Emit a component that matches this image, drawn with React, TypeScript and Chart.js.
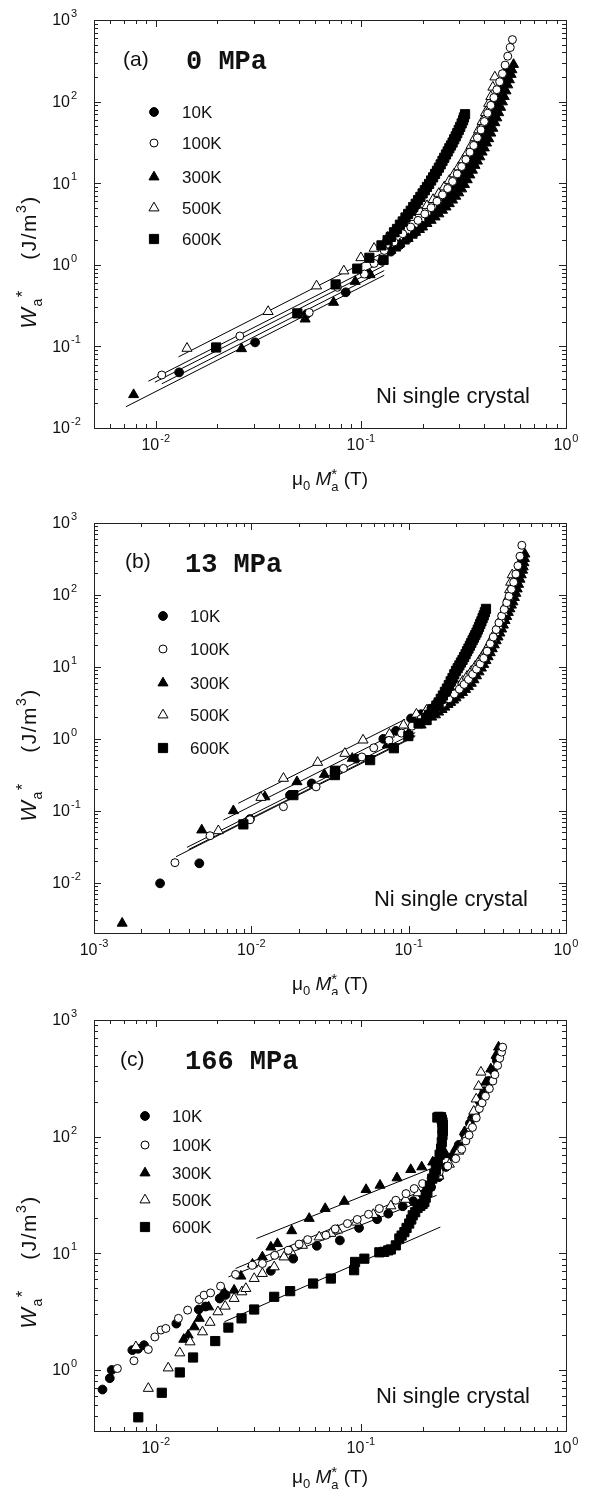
import React, { useEffect, useRef } from 'react';
import { Chart, registerables } from 'chart.js';

Chart.register(...registerables);

type P = [number, number];

const SANS = '"Liberation Sans", Arial, Helvetica, sans-serif';
const MONO = '"Liberation Mono", "Courier New", monospace';

const TEMPS = ['10K', '100K', '300K', '500K', '600K'];
const SAMPLE = 'Ni single crystal';

// ---------- Panel (a): 0 MPa ----------
const A_10K: P[] = [
  [0.013, 0.048], [0.0305, 0.112], [0.0545, 0.25], [0.0844, 0.46], [0.109, 0.77], [0.127, 1.12],
  [0.14, 1.45], [0.155, 1.75], [0.17, 2.1], [0.185, 2.5], [0.2, 3.0], [0.215, 3.6], [0.23, 4.3],
  [0.245, 5.1], [0.26, 6.1], [0.275, 7.3], [0.29, 8.8], [0.305, 10.6], [0.32, 12.8], [0.335, 15.5],
  [0.35, 19], [0.365, 23.5], [0.38, 29], [0.395, 36], [0.41, 45], [0.425, 56], [0.44, 70],
  [0.455, 88], [0.47, 110], [0.485, 140], [0.5, 180], [0.515, 230],
];
const A_100K: P[] = [
  [0.0107, 0.0446], [0.0257, 0.134], [0.056, 0.26], [0.0769, 0.53], [0.104, 0.77], [0.116, 1.04],
  [0.13, 1.5], [0.145, 1.9], [0.16, 2.4], [0.175, 2.9], [0.19, 3.5], [0.205, 4.2], [0.22, 5.0],
  [0.235, 6.0], [0.25, 7.2], [0.265, 8.6], [0.28, 10.5], [0.295, 13], [0.31, 16], [0.325, 19.5],
  [0.34, 24], [0.355, 29], [0.37, 36], [0.385, 45], [0.4, 57], [0.415, 72], [0.43, 90],
  [0.445, 112], [0.46, 140], [0.475, 175], [0.49, 220], [0.505, 280], [0.52, 360], [0.535, 460], [0.548, 575],
];
const A_300K: P[] = [
  [0.0078, 0.0256], [0.0262, 0.0936], [0.0535, 0.216], [0.0736, 0.346], [0.0938, 0.625], [0.111, 0.755],
  [0.14, 1.5], [0.148, 1.6], [0.155, 1.8], [0.163, 1.95], [0.17, 2.1], [0.178, 2.3], [0.185, 2.5],
  [0.193, 2.7], [0.2, 2.9], [0.21, 3.2], [0.22, 3.5], [0.23, 3.85], [0.24, 4.2], [0.25, 4.65],
  [0.26, 5.1], [0.27, 5.6], [0.28, 6.2], [0.29, 6.9], [0.3, 7.6], [0.31, 8.5], [0.32, 9.6],
  [0.33, 11], [0.34, 12.6], [0.35, 14.4], [0.36, 16.5], [0.37, 18.6], [0.38, 21], [0.39, 24],
  [0.4, 27], [0.41, 31], [0.42, 35], [0.43, 41], [0.44, 47], [0.45, 55], [0.46, 63], [0.47, 73],
  [0.48, 85], [0.49, 99], [0.5, 115], [0.51, 135], [0.52, 160], [0.53, 185], [0.54, 215],
  [0.545, 245], [0.555, 285],
];
const A_500K: P[] = [
  [0.0142, 0.0946], [0.0353, 0.267], [0.0608, 0.55], [0.0826, 0.84], [0.1, 1.22], [0.116, 1.59], [0.135, 2.17],
  [0.15, 2.7], [0.165, 3.2], [0.18, 3.8], [0.195, 4.5], [0.21, 5.3], [0.225, 6.3], [0.24, 7.5],
  [0.255, 9.0], [0.27, 10.8], [0.285, 13], [0.3, 15.8], [0.315, 19.3], [0.33, 23.5], [0.345, 29],
  [0.36, 36], [0.375, 45], [0.39, 57], [0.405, 73], [0.42, 95], [0.43, 115], [0.44, 150], [0.45, 200],
];
const A_600K: P[] = [
  [0.0197, 0.097], [0.049, 0.254], [0.0753, 0.575], [0.096, 0.897], [0.11, 1.22], [0.126, 1.73], [0.129, 1.15],
  [0.135, 2.0], [0.14, 2.2], [0.145, 2.5], [0.15, 2.75], [0.155, 3.1], [0.16, 3.4], [0.165, 3.8],
  [0.17, 4.2], [0.175, 4.6], [0.18, 5.1], [0.185, 5.6], [0.19, 6.2], [0.195, 6.8], [0.2, 7.5],
  [0.205, 8.2], [0.21, 9.0], [0.215, 9.8], [0.22, 10.8], [0.225, 11.8], [0.23, 13], [0.235, 14.2],
  [0.24, 15.5], [0.245, 17], [0.25, 18.8], [0.255, 20.5], [0.26, 22.5], [0.265, 24.5], [0.27, 26.8],
  [0.275, 29], [0.28, 31.5], [0.285, 34.5], [0.29, 37.5], [0.295, 41], [0.3, 45], [0.305, 49],
  [0.31, 54], [0.315, 59], [0.318, 64], [0.322, 70],
];
const A_FITS: P[][] = [
  [[0.0129, 0.0744], [0.125, 1.36]],
  [[0.0092, 0.0374], [0.13, 1.11]],
  [[0.0099, 0.0364], [0.13, 0.98]],
  [[0.0107, 0.0348], [0.13, 0.85]],
  [[0.00715, 0.0182], [0.13, 0.745]],
];

// ---------- Panel (b): 13 MPa ----------
const B_10K: P[] = [
  [0.00263, 0.0098], [0.00467, 0.0186], [0.0098, 0.0767], [0.0176, 0.165], [0.0242, 0.24], [0.0465, 0.53],
  [0.069, 1.0], [0.083, 1.29], [0.1035, 1.92], [0.12, 2.2], [0.135, 2.6], [0.15, 3.0], [0.165, 3.5],
  [0.18, 4.0], [0.195, 4.6], [0.21, 5.3], [0.225, 6.1], [0.24, 7.1], [0.255, 8.3], [0.27, 9.8],
  [0.285, 11.6], [0.3, 13.8], [0.315, 16.5], [0.33, 19.8], [0.345, 23.8], [0.36, 28.5], [0.375, 34.5],
  [0.39, 42], [0.405, 51], [0.42, 62], [0.435, 76], [0.45, 93], [0.465, 115], [0.48, 140],
  [0.495, 175], [0.51, 220], [0.525, 290],
];
const B_100K: P[] = [
  [0.00327, 0.019], [0.00546, 0.045], [0.0098, 0.075], [0.016, 0.114], [0.0258, 0.215], [0.0385, 0.388],
  [0.0504, 0.56], [0.06, 0.75], [0.075, 0.95], [0.09, 1.2], [0.105, 1.5], [0.12, 1.9], [0.135, 2.25],
  [0.15, 2.65], [0.165, 3.1], [0.18, 3.6], [0.195, 4.2], [0.21, 4.9], [0.225, 5.7], [0.24, 6.7],
  [0.255, 7.9], [0.27, 9.3], [0.285, 11], [0.3, 13.2], [0.315, 16.5], [0.33, 21], [0.345, 26],
  [0.36, 33], [0.375, 41], [0.39, 51], [0.405, 63], [0.42, 78], [0.435, 96], [0.45, 120],
  [0.465, 150], [0.48, 195], [0.495, 255], [0.51, 345], [0.524, 490],
];
const B_300K: P[] = [
  [0.00151, 0.00273], [0.00484, 0.054], [0.00769, 0.1], [0.0122, 0.156], [0.0195, 0.253], [0.0291, 0.32],
  [0.0438, 0.535], [0.073, 0.82], [0.1, 1.2], [0.12, 1.55], [0.13, 1.75], [0.14, 2.0], [0.148, 2.15],
  [0.155, 2.35], [0.163, 2.55], [0.17, 2.75], [0.178, 3.0], [0.185, 3.2], [0.193, 3.45], [0.2, 3.7],
  [0.21, 4.05], [0.22, 4.4], [0.23, 4.85], [0.24, 5.3], [0.25, 5.9], [0.26, 6.6], [0.27, 7.5],
  [0.28, 8.5], [0.29, 9.6], [0.3, 10.8], [0.31, 12.2], [0.32, 13.8], [0.33, 15.7], [0.34, 17.8],
  [0.35, 20.2], [0.36, 23], [0.37, 26], [0.38, 29.5], [0.39, 33.5], [0.4, 38], [0.41, 44], [0.42, 50],
  [0.43, 57], [0.44, 64], [0.45, 72], [0.46, 80], [0.47, 92], [0.48, 105], [0.49, 121], [0.5, 140],
  [0.51, 165], [0.52, 190], [0.53, 220], [0.535, 245], [0.54, 280], [0.545, 320], [0.548, 370],
];
const B_500K: P[] = [
  [0.00617, 0.0527], [0.0115, 0.153], [0.016, 0.282], [0.0264, 0.47], [0.0393, 0.627], [0.0513, 0.96],
  [0.0755, 1.16], [0.0927, 1.55], [0.112, 2.2], [0.13, 2.5], [0.145, 2.9], [0.16, 3.4], [0.175, 4.0],
  [0.19, 4.6], [0.205, 5.4], [0.22, 6.3], [0.235, 7.4], [0.25, 8.7], [0.265, 10.2], [0.28, 12],
  [0.295, 14.2], [0.31, 17], [0.325, 20.5], [0.34, 25], [0.355, 30], [0.37, 37], [0.385, 46],
  [0.4, 57], [0.415, 72], [0.43, 92], [0.438, 118], [0.445, 150], [0.455, 190],
];
const B_600K: P[] = [
  [0.0089, 0.0647], [0.0185, 0.165], [0.034, 0.313], [0.034, 0.36], [0.0569, 0.506], [0.0805, 0.74],
  [0.0995, 1.09], [0.1156, 1.64], [0.129, 1.82], [0.13, 1.95], [0.135, 2.15], [0.14, 2.4], [0.145, 2.6],
  [0.15, 2.9], [0.155, 3.2], [0.16, 3.6], [0.165, 4.0], [0.17, 4.5], [0.175, 5.0], [0.18, 5.6],
  [0.185, 6.3], [0.19, 7.0], [0.195, 7.9], [0.2, 8.8], [0.205, 9.6], [0.21, 10.5], [0.215, 11.5],
  [0.22, 12.5], [0.225, 13.7], [0.23, 15], [0.235, 16.5], [0.24, 18], [0.245, 19.7], [0.25, 21.5],
  [0.255, 23.5], [0.26, 25.5], [0.265, 27.7], [0.27, 30], [0.275, 33], [0.28, 36], [0.285, 39.5],
  [0.29, 43], [0.295, 47.5], [0.3, 52], [0.305, 57.5], [0.31, 64],
];
const B_FITS: P[][] = [
  [[0.00826, 0.127], [0.095, 1.87]],
  [[0.00664, 0.0743], [0.1, 1.47]],
  [[0.0039, 0.031], [0.11, 1.22]],
  [[0.004, 0.029], [0.11, 1.11]],
  [[0.00332, 0.023], [0.11, 1.08]],
];

// ---------- Panel (c): 166 MPa ----------
const C_10K: P[] = [
  [0.0055, 0.68], [0.00597, 0.85], [0.0061, 1.0], [0.00769, 1.48], [0.0082, 1.52], [0.00877, 1.63],
  [0.0126, 2.5], [0.0162, 3.3], [0.0175, 3.5], [0.0205, 4.1], [0.0219, 4.4], [0.0364, 7.08],
  [0.0468, 9.0], [0.061, 11.6], [0.079, 12.9], [0.098, 16.5], [0.12, 19.6], [0.136, 21.9], [0.16, 25.3],
  [0.18, 28], [0.2, 32], [0.22, 37], [0.24, 45], [0.26, 55], [0.28, 68], [0.3, 85], [0.32, 105],
  [0.34, 130], [0.36, 160], [0.38, 200], [0.4, 245], [0.42, 300], [0.44, 370], [0.46, 450],
];
const C_100K: P[] = [
  [0.0065, 1.03], [0.00783, 1.2], [0.0092, 1.5], [0.0099, 1.92], [0.0106, 2.2], [0.0112, 2.27],
  [0.0129, 2.77], [0.0143, 3.26], [0.0163, 4.02], [0.0172, 4.38], [0.0185, 4.58], [0.0207, 5.23],
  [0.0245, 6.6], [0.0296, 7.9], [0.0331, 8.18], [0.038, 9.6], [0.0443, 10.6], [0.05, 12], [0.055, 13.1],
  [0.0675, 14.3], [0.075, 16.2], [0.086, 18.0], [0.096, 19.5], [0.109, 21.6], [0.123, 24.2],
  [0.148, 28.5], [0.166, 32.5], [0.182, 35.9], [0.2, 39.6], [0.22, 44], [0.241, 49.8], [0.265, 56],
  [0.29, 64.8], [0.31, 78], [0.325, 92], [0.337, 103], [0.35, 120], [0.365, 145], [0.378, 174],
  [0.39, 195], [0.405, 222], [0.423, 258], [0.44, 300], [0.45, 340], [0.464, 408], [0.475, 470],
  [0.485, 530], [0.491, 585],
];
const C_300K: P[] = [
  [0.0137, 1.83], [0.0144, 1.99], [0.0154, 2.34], [0.0163, 2.77], [0.0181, 3.47], [0.0215, 4.67],
  [0.0241, 4.83], [0.026, 6.37], [0.0296, 8.07], [0.0331, 9.3], [0.0364, 11.3], [0.0392, 12.1],
  [0.046, 15.6], [0.056, 19.9], [0.067, 24.2], [0.083, 27.9], [0.106, 35.2], [0.124, 38.3],
  [0.15, 44.3], [0.175, 52.2], [0.198, 55], [0.224, 60.6], [0.26, 70], [0.29, 79], [0.32, 110],
  [0.35, 152], [0.38, 215], [0.407, 293], [0.43, 380], [0.456, 497], [0.469, 585],
];
const C_500K: P[] = [
  [0.008, 1.58], [0.0092, 0.695], [0.0115, 1.04], [0.0131, 1.4], [0.0147, 1.74], [0.0169, 2.12],
  [0.0184, 2.56], [0.0201, 3.15], [0.0218, 3.52], [0.0241, 4.1], [0.0263, 4.67], [0.0275, 4.99],
  [0.0302, 6.08], [0.0331, 6.71], [0.0378, 7.65], [0.0422, 9.3], [0.0456, 10.3], [0.0519, 11.7],
  [0.0626, 13.8], [0.0714, 14.8], [0.077, 15.8], [0.095, 18.5], [0.115, 21.5], [0.14, 25.5],
  [0.165, 29], [0.19, 33], [0.21, 36], [0.24, 46], [0.27, 58], [0.3, 75], [0.32, 95], [0.34, 125],
  [0.355, 165], [0.365, 210], [0.375, 270], [0.385, 357],
];
const C_600K: P[] = [
  [0.00822, 0.393], [0.0107, 0.638], [0.0131, 0.953], [0.0152, 1.28], [0.0195, 1.77], [0.0226, 2.31],
  [0.0262, 2.77], [0.0302, 3.3], [0.0378, 4.24], [0.0452, 4.74], [0.0585, 5.51], [0.0714, 6.08],
  [0.0927, 7.17], [0.0937, 8.44], [0.104, 9.0], [0.123, 10.2], [0.13, 10.3], [0.136, 10.6],
  [0.14, 10.8], [0.148, 11.7], [0.154, 13.4], [0.158, 14.2], [0.163, 15.2], [0.167, 16.5],
  [0.172, 18.0], [0.176, 19.5], [0.179, 21.2], [0.184, 22.5], [0.189, 24.5], [0.195, 25.5],
  [0.2, 26.5], [0.204, 27.5], [0.207, 30], [0.211, 33.6], [0.217, 38], [0.223, 43.7], [0.228, 48],
  [0.232, 52], [0.237, 60.6], [0.242, 70], [0.246, 79], [0.248, 90], [0.25, 103], [0.251, 112],
  [0.25, 118], [0.251, 126], [0.25, 133], [0.248, 140], [0.246, 147], [0.24, 148], [0.236, 146],
];
const C_FITS: P[][] = [
  [[0.031, 13.4], [0.22, 53.2]],
  [[0.0245, 7.41], [0.22, 37]],
  [[0.0226, 6.28], [0.234, 31.4]],
  [[0.0216, 2.59], [0.244, 16.8]],
];

// ---------- styles / layout ----------
const MARKERS = [
  { style: 'circle', r: 4.4, fill: '#000', order: 4 },
  { style: 'circle', r: 4.0, fill: '#fff', order: 2 },
  { style: 'triangle', r: 5.8, fill: '#000', order: 5 },
  { style: 'triangle', r: 5.8, fill: '#fff', order: 3 },
  { style: 'rect', r: 6.5, fill: '#000', order: 1 },
];

const PANELS = [
  {
    tag: '(a)', pressure: '0 MPa', top: 0, height: 495,
    area: { l: 94, r: 566, t: 20, b: 428 },
    xMin: 0.005, xMax: 1, yMin: 0.01, yMax: 1000,
    xDec: [-2, -1, 0], yDec: [-2, -1, 0, 1, 2, 3],
    series: [A_10K, A_100K, A_300K, A_500K, A_600K], fits: A_FITS,
    tagX: 123, tagY: 60, presX: 186, presY: 62,
    legX: 154, legTextX: 182, legY: [112, 143, 177, 208, 239],
    niX: 530, niY: 397, xTitleY: 480, yTitleY: 262,
  },
  {
    tag: '(b)', pressure: '13 MPa', top: 495, height: 500,
    area: { l: 94, r: 566, t: 523, b: 933 },
    xMin: 0.001, xMax: 1, yMin: 0.002, yMax: 1000,
    xDec: [-3, -2, -1, 0], yDec: [-2, -1, 0, 1, 2, 3],
    series: [B_10K, B_100K, B_300K, B_500K, B_600K], fits: B_FITS,
    tagX: 125, tagY: 562, presX: 185, presY: 565,
    legX: 163, legTextX: 190, legY: [616, 649, 683, 715, 748],
    niX: 528, niY: 900, xTitleY: 985, yTitleY: 755,
  },
  {
    tag: '(c)', pressure: '166 MPa', top: 995, height: 504,
    area: { l: 94, r: 566, t: 1020, b: 1431 },
    xMin: 0.005, xMax: 1, yMin: 0.3, yMax: 1000,
    xDec: [-2, -1, 0], yDec: [0, 1, 2, 3],
    series: [C_10K, C_100K, C_300K, C_500K, C_600K], fits: C_FITS,
    tagX: 120, tagY: 1060, presX: 185, presY: 1062,
    legX: 145, legTextX: 172, legY: [1116, 1145, 1173, 1200, 1227],
    niX: 530, niY: 1397, xTitleY: 1478, yTitleY: 1262,
  },
];

type Piece = { t: string; f: string; dy?: number; keep?: boolean };

function richWidth(ctx: CanvasRenderingContext2D, pieces: Piece[]) {
  let x = 0, hold = 0;
  for (const p of pieces) {
    ctx.font = p.f;
    const w = ctx.measureText(p.t).width;
    if (p.keep) hold = Math.max(hold, w);
    else { x += Math.max(w, hold); hold = 0; }
  }
  return x;
}
function drawRich(ctx: CanvasRenderingContext2D, pieces: Piece[], x0: number, y: number) {
  let x = x0, hold = 0;
  ctx.textAlign = 'left';
  ctx.textBaseline = 'middle';
  for (const p of pieces) {
    ctx.font = p.f;
    const w = ctx.measureText(p.t).width;
    ctx.fillText(p.t, x, y + (p.dy || 0));
    if (p.keep) hold = Math.max(hold, w);
    else { x += Math.max(w, hold); hold = 0; }
  }
}

function drawPow(ctx: CanvasRenderingContext2D, exp: number, x: number, y: number, mode: 'x' | 'y') {
  const base = '10';
  const sup = String(exp);
  ctx.font = `16px ${SANS}`;
  const wb = ctx.measureText(base).width;
  ctx.font = `11px ${SANS}`;
  const ws = ctx.measureText(sup).width;
  const x0 = mode === 'x' ? x - (wb + 1 + ws) / 2 : x - wb;
  ctx.textAlign = 'left';
  ctx.textBaseline = 'middle';
  ctx.font = `16px ${SANS}`;
  ctx.fillText(base, x0, y);
  ctx.font = `11px ${SANS}`;
  ctx.fillText(sup, x0 + wb + 1, y - 7);
}

function drawMarker(ctx: CanvasRenderingContext2D, m: any, x: number, y: number) {
  ctx.save();
  ctx.lineWidth = 1;
  ctx.strokeStyle = '#000';
  ctx.fillStyle = m.fill;
  ctx.beginPath();
  const r = m.r;
  if (m.style === 'circle') ctx.arc(x, y, r, 0, Math.PI * 2);
  else if (m.style === 'triangle') {
    ctx.moveTo(x, y - r);
    ctx.lineTo(x + 0.866 * r, y + 0.5 * r);
    ctx.lineTo(x - 0.866 * r, y + 0.5 * r);
    ctx.closePath();
  } else {
    const s = r * Math.SQRT1_2;
    ctx.rect(x - s, y - s, 2 * s, 2 * s);
  }
  ctx.fill();
  ctx.stroke();
  ctx.restore();
}

function makeOverlay(p: any) {
  return {
    id: 'overlay',
    afterDraw(chart: any) {
      const ctx: CanvasRenderingContext2D = chart.ctx;
      const xs = chart.scales.x;
      const ys = chart.scales.y;
      const ca = chart.chartArea;
      const off = p.top;
      ctx.save();
      ctx.strokeStyle = '#222';
      ctx.fillStyle = '#111';
      ctx.lineWidth = 1;
      ctx.strokeRect(Math.round(ca.left) + 0.5, Math.round(ca.top) + 0.5,
        Math.round(ca.right - ca.left), Math.round(ca.bottom - ca.top));
      ctx.beginPath();
      const kx0 = Math.floor(Math.log10(p.xMin)), kx1 = Math.ceil(Math.log10(p.xMax));
      for (let k = kx0; k <= kx1; k++) {
        for (let m = 1; m <= 9; m++) {
          const v = m * Math.pow(10, k);
          if (v < p.xMin * 0.999 || v > p.xMax * 1.001) continue;
          const px = Math.round(xs.getPixelForValue(v)) + 0.5;
          const len = m === 1 ? 7 : 4;
          ctx.moveTo(px, ca.bottom); ctx.lineTo(px, ca.bottom - len);
          ctx.moveTo(px, ca.top); ctx.lineTo(px, ca.top + len);
        }
      }
      const ky0 = Math.floor(Math.log10(p.yMin)), ky1 = Math.ceil(Math.log10(p.yMax));
      for (let k = ky0; k <= ky1; k++) {
        for (let m = 1; m <= 9; m++) {
          const v = m * Math.pow(10, k);
          if (v < p.yMin * 0.999 || v > p.yMax * 1.001) continue;
          const py = Math.round(ys.getPixelForValue(v)) + 0.5;
          const len = m === 1 ? 7 : 4;
          ctx.moveTo(ca.left, py); ctx.lineTo(ca.left + len, py);
          ctx.moveTo(ca.right, py); ctx.lineTo(ca.right - len, py);
        }
      }
      ctx.stroke();
      ctx.fillStyle = '#111';
      for (const e of p.xDec) drawPow(ctx, e, xs.getPixelForValue(Math.pow(10, e)), ca.bottom + 18, 'x');
      for (const e of p.yDec) drawPow(ctx, e, 70, ys.getPixelForValue(Math.pow(10, e)) + 1, 'y');
      const xt: Piece[] = [
        { t: 'μ', f: `19px ${SANS}` },
        { t: '0', f: `13px ${SANS}`, dy: 6 },
        { t: ' ', f: `19px ${SANS}` },
        { t: 'M', f: `italic 19px ${SANS}` },
        { t: 'a', f: `13px ${SANS}`, dy: 7, keep: true },
        { t: '*', f: `15px ${SANS}`, dy: -5 },
        { t: ' (T)', f: `19px ${SANS}` },
      ];
      const cx = (ca.left + ca.right) / 2;
      drawRich(ctx, xt, cx - richWidth(ctx, xt) / 2, p.xTitleY - off);
      const yt: Piece[] = [
        { t: 'W', f: `italic 22px ${SANS}` },
        { t: 'a', f: `14px ${SANS}`, dy: 8 },
        { t: '*', f: `17px ${SANS}`, dy: -7 },
        { t: '    (J/m', f: `21px ${SANS}` },
        { t: '3', f: `14px ${SANS}`, dy: -8 },
        { t: ')', f: `21px ${SANS}` },
      ];
      ctx.save();
      ctx.translate(30, p.yTitleY - off);
      ctx.rotate(-Math.PI / 2);
      (ctx as any).letterSpacing = '1.5px';
      drawRich(ctx, yt, -richWidth(ctx, yt) / 2, 0);
      (ctx as any).letterSpacing = '0px';
      ctx.restore();
      ctx.textAlign = 'left';
      ctx.textBaseline = 'middle';
      ctx.font = `21px ${SANS}`;
      ctx.fillText(p.tag, p.tagX, p.tagY - off);
      ctx.font = `bold 27px ${MONO}`;
      ctx.fillText(p.pressure, p.presX, p.presY - off);
      TEMPS.forEach((t, i) => {
        drawMarker(ctx, MARKERS[i], p.legX, p.legY[i] - off);
        ctx.fillStyle = '#111';
        ctx.textAlign = 'left';
        ctx.textBaseline = 'middle';
        ctx.font = `17px ${SANS}`;
        ctx.fillText(t, p.legTextX, p.legY[i] - off + 1);
      });
      ctx.textAlign = 'right';
      ctx.font = `22px ${SANS}`;
      ctx.fillText(SAMPLE, p.niX, p.niY - off);
      ctx.restore();
    },
  };
}

function PanelChart({ p }: { p: any }) {
  const ref = useRef<HTMLCanvasElement | null>(null);
  useEffect(() => {
    if (!ref.current) return;
    const fitSets = p.fits.map((seg: P[]) => ({
      data: seg.map(([x, y]) => ({ x, y })),
      showLine: true,
      borderColor: '#000',
      borderWidth: 1,
      pointRadius: 0,
      order: 10,
    }));
    const pointSets = p.series.map((s: P[], i: number) => ({
      label: TEMPS[i],
      data: s.map(([x, y]) => ({ x, y })),
      showLine: false,
      pointStyle: MARKERS[i].style,
      pointRadius: MARKERS[i].r,
      pointBackgroundColor: MARKERS[i].fill,
      pointBorderColor: '#000',
      pointBorderWidth: 1,
      order: MARKERS[i].order,
    }));
    const chart = new Chart(ref.current, {
      type: 'scatter',
      data: { datasets: [...fitSets, ...pointSets] },
      options: {
        responsive: false,
        animation: false,
        devicePixelRatio: 1,
        events: [],
        layout: {
          autoPadding: false,
          padding: {
            left: p.area.l,
            right: 595 - p.area.r,
            top: p.area.t - p.top,
            bottom: p.top + p.height - p.area.b,
          },
        },
        scales: {
          x: { type: 'logarithmic', min: p.xMin, max: p.xMax, display: false, bounds: 'data' },
          y: { type: 'logarithmic', min: p.yMin, max: p.yMax, display: false, bounds: 'data' },
        },
        plugins: { legend: { display: false }, tooltip: { enabled: false } },
      } as any,
      plugins: [makeOverlay(p)],
    });
    return () => chart.destroy();
  }, [p]);
  return (
    <canvas
      ref={ref}
      width={595}
      height={p.height}
      style={{ position: 'absolute', left: 0, top: p.top, width: 595, height: p.height }}
    />
  );
}

export default function App() {
  return (
    <div style={{ position: 'absolute', left: 0, top: 0, width: 595, height: 1499, background: '#fff' }}>
      {PANELS.map((p, i) => <PanelChart key={i} p={p} />)}
    </div>
  );
}
